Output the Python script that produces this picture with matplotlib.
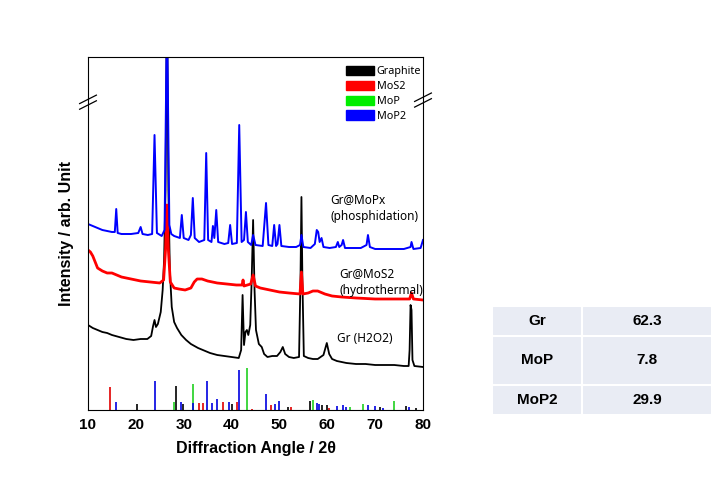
import numpy as np
import matplotlib
matplotlib.use('Agg')
import matplotlib.pyplot as plt
from matplotlib.patches import Patch

plt.rcParams['font.family'] = ['Noto Sans', 'DejaVu Sans']
BOLD = ['Liberation Sans', 'DejaVu Sans']

# XRD patterns, angle (2theta) vs intensity (arb.)
mopx_x = [10.0, 11.0, 12.0, 13.0, 14.0, 15.0, 15.6, 15.9, 16.2, 17.0, 19.0, 20.5, 21.0, 21.4, 22.5,
          23.4, 23.9, 24.4, 25.4, 26.0, 26.5, 27.0, 27.4, 28.0, 29.2, 29.6, 30.0, 31.0, 31.5, 31.9,
          32.3, 33.2, 34.3, 34.7, 35.1, 35.8, 36.1, 36.4, 36.8, 37.2, 38.5, 39.3, 39.7, 40.1, 41.1,
          41.6, 42.1, 42.6, 43.0, 43.4, 44.1, 44.5, 45.0, 46.5, 47.2, 47.7, 48.5, 48.9, 49.3, 49.6,
          50.0, 50.4, 52.0, 53.5, 54.3, 54.6, 55.0, 56.5, 57.4, 57.8, 58.1, 58.4, 58.8, 59.2, 60.5,
          61.8, 62.2, 62.5, 63.0, 63.3, 63.7, 65.0, 67.0, 68.2, 68.5, 68.9, 70.0, 72.0, 74.0, 76.0,
          77.4, 77.6, 78.0, 79.5, 80.0]
mopx_y = [186, 184, 182, 180, 179, 178, 178, 201, 177, 176, 176, 177, 183, 176, 175,
          176, 275, 177, 174, 180, 400, 185, 176, 174, 172, 195, 172, 170, 175, 212,
          172, 168, 170, 257, 170, 168, 184, 172, 200, 168, 166, 167, 185, 166, 167,
          285, 168, 170, 198, 168, 165, 175, 165, 164, 207, 165, 164, 185, 164, 166,
          185, 164, 163, 163, 165, 175, 163, 162, 166, 180, 178, 168, 172, 163, 162,
          163, 168, 163, 165, 170, 162, 162, 162, 165, 175, 163, 161, 161, 161, 161,
          163, 168, 161, 162, 170]

mos2_x = [10.0, 10.5, 11.0, 11.5, 12.0, 13.0, 14.0, 15.0, 17.0, 19.0, 21.0, 23.0, 25.0, 25.8,
          26.2, 26.5, 26.8, 27.2, 28.0, 29.0, 30.3, 31.5, 32.2, 32.8, 33.8, 35.0, 37.0, 39.0,
          41.0, 42.2, 42.4, 42.6, 44.0, 44.5, 45.0, 46.0, 48.0, 50.0, 52.0, 54.3, 54.6, 54.9,
          56.0, 57.0, 58.0, 59.5, 61.0, 63.0, 66.0, 70.0, 74.0, 77.2, 77.6, 78.0, 80.0]
mos2_y = [160, 158, 154, 148, 142, 139, 137, 137, 133, 131, 129, 128, 127, 130,
          160, 205, 160, 128, 122, 121, 120, 122, 128, 131, 131, 129, 127, 126,
          125, 125, 130, 124, 126, 135, 124, 122, 120, 118, 117, 116, 138, 116,
          117, 119, 119, 116, 114, 113, 112, 111, 111, 111, 117, 111, 110]

gr_x = [10.0, 11.0, 12.0, 13.0, 14.0, 15.0, 16.5, 18.0, 19.5, 21.0, 22.4, 23.2, 23.6, 23.9, 24.2,
        24.6, 25.2, 25.6, 25.9, 26.2, 26.5, 26.8, 27.1, 27.5, 28.0, 28.6, 29.5, 30.5, 31.5, 33.0,
        34.0, 35.5, 37.0, 38.5, 40.0, 41.5, 42.0, 42.3, 42.6, 42.9, 43.2, 43.5, 43.9, 44.2, 44.5,
        44.8, 45.1, 45.7, 46.3, 46.8, 47.5, 48.5, 49.5, 50.2, 50.7, 51.2, 52.0, 53.0, 54.1, 54.4,
        54.6, 54.8, 55.1, 56.0, 57.0, 58.0, 59.2, 59.9, 60.4, 61.0, 62.0, 64.0, 66.0, 68.0, 70.0,
        72.0, 74.0, 76.0, 77.0, 77.2, 77.4, 77.6, 77.8, 78.2, 80.0]
gr_y = [85, 82, 80, 78, 77, 75, 73, 71, 70, 71, 71, 74, 84, 90, 83,
        86, 98, 120, 150, 220, 420, 220, 140, 103, 88, 82, 75, 70, 66, 62,
        60, 57, 55, 54, 53, 52, 60, 115, 65, 78, 80, 75, 85, 130, 190,
        120, 80, 66, 63, 56, 53, 54, 54, 58, 63, 56, 53, 52, 53, 130,
        213, 130, 54, 52, 51, 51, 55, 67, 56, 51, 49, 47, 46, 46, 45,
        45, 45, 44, 44, 60, 105, 100, 50, 44, 43]

# reference patterns (stick positions / heights)
graphite_pos = [20.2, 28.4, 29.9, 40.0, 51.8, 56.3, 58.8, 60.0, 71.0, 76.4, 78.6]
graphite_h = [6, 24, 6, 6, 3, 9, 5, 5, 3, 4, 2]
mos2_pos = [14.5, 33.1, 34.1, 38.3, 41.2, 44.2, 48.2, 52.4, 60.4]
mos2_h = [23, 7, 7, 8, 8, 1, 5, 3, 2]
mop_pos = [28.0, 32.0, 43.2, 57.0, 64.7, 67.4, 74.0]
mop_h = [8, 26, 42, 10, 3, 6, 9]
mop2_pos = [15.9, 23.9, 29.4, 32.0, 34.8, 36.0, 36.9, 39.5, 41.6, 47.2, 49.0, 50.0,
            57.9, 58.3, 62.1, 63.2, 64.0, 68.6, 70.0, 71.6, 77.1]
mop2_h = [8, 29, 8, 7, 29, 7, 11, 8, 40, 16, 6, 9, 7, 6, 4, 5, 3, 5, 4, 2, 3]

table_rows = ['Gr', 'MoP', 'MoP2']
table_vals = ['62.3', '7.8', '29.9']

fig = plt.figure(figsize=(7.14, 4.92), dpi=100)
ax = fig.add_axes([88/714, 82/492, 335/714, 353/492])

ax.vlines(graphite_pos, 0, graphite_h, colors='k', lw=1.2)
ax.vlines(mos2_pos, 0, mos2_h, colors='#e00000', lw=1.2)
ax.vlines(mop_pos, 0, mop_h, colors='#20d020', lw=1.2)
ax.vlines(mop2_pos, 0, mop2_h, colors='#0000e0', lw=1.2)

ax.plot(gr_x, gr_y, color='k', lw=1.3)
ax.plot(mos2_x, mos2_y, color='#ff0000', lw=2.0)
ax.plot(mopx_x, mopx_y, color='#0000ff', lw=1.4)

ax.text(60.6, 202, 'Gr@MoPx\n(phosphidation)', ha='left', va='center', fontsize=8.5, linespacing=1.35)
ax.text(62.5, 128, 'Gr@MoS2\n(hydrothermal)', ha='left', va='center', fontsize=8.5, linespacing=1.35)
ax.text(62.0, 71, 'Gr (H2O2)', ha='left', va='center', fontsize=8.5)

ax.set_xlim(10, 80)
ax.set_ylim(0, 353)
ax.set_xticks(range(10, 81, 10))
ax.set_yticks([])
ax.tick_params(axis='x', length=0, pad=6)
for lab in ax.get_xticklabels():
    lab.set_fontweight('bold')
    lab.set_fontfamily(BOLD)
    lab.set_fontsize(11)
ax.set_xlabel('Diffraction Angle / 2θ', fontsize=11.5, fontweight='bold', family=BOLD, labelpad=6)
ax.set_ylabel('Intensity / arb. Unit', fontsize=11.5, fontweight='bold', family=BOLD, labelpad=10)

# axis break marks
for xb, yb in [(0, 0.872), (1, 0.878)]:
    for dy in (-0.008, 0.008):
        ax.plot([xb - 0.025, xb + 0.025], [yb + dy - 0.012, yb + dy + 0.012],
                color='k', lw=0.9, transform=ax.transAxes, clip_on=False)

handles = [Patch(color='k', label='Graphite'), Patch(color='#ff0000', label='MoS2'),
           Patch(color='#00ee00', label='MoP'), Patch(color='#0000ff', label='MoP2')]
ax.legend(handles=handles, loc='upper right', bbox_to_anchor=(0.995, 0.975), frameon=False,
          fontsize=7.8, handlelength=2.5, handleheight=0.95, handletextpad=0.3,
          labelspacing=0.32, borderpad=0, borderaxespad=0)

# composition table
tax = fig.add_axes([492/714, 1 - 415/492, 220/714, 109/492])
tax.axis('off')
tab = tax.table(cellText=[[r, v] for r, v in zip(table_rows, table_vals)],
                bbox=[0, 0, 1, 1], cellLoc='center', colWidths=[90, 130])
tab.auto_set_font_size(False)
row_h = [30, 49, 30]
for (r, c), cell in tab.get_celld().items():
    cell.set_facecolor('#e9ecf4')
    cell.set_edgecolor('white')
    cell.set_linewidth(1.5)
    cell.set_height(row_h[r] / 109)
    txt = cell.get_text()
    txt.set_fontweight('bold')
    txt.set_fontfamily(BOLD)
    txt.set_fontsize(11)

fig.savefig('out.png', dpi=100)
